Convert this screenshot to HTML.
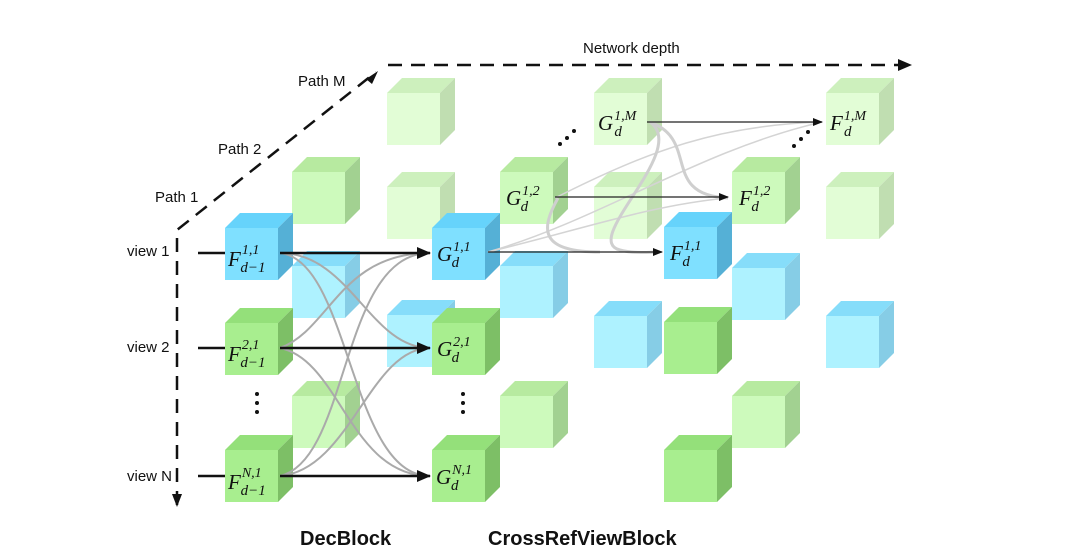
<!DOCTYPE html>
<html><head><meta charset="utf-8"><style>
body{margin:0;background:#fff}
svg{display:block}
.t{font-family:"Liberation Sans",sans-serif;font-size:15px;fill:#111}
.b{font-family:"Liberation Sans",sans-serif;font-size:20px;font-weight:bold;fill:#111}
.m{font-family:"Liberation Serif",serif;font-style:italic;fill:#111}
</style></head><body>
<svg width="1080" height="560" viewBox="0 0 1080 560" xmlns="http://www.w3.org/2000/svg">
<defs>
<g id="cb"><polygon points="0,0 15,-15 68,-15 53,0" fill="#66d3fb"/><polygon points="53,0 68,-15 68,37 53,52" fill="#55b0d6"/><rect width="53" height="52" fill="#7fe0ff"/></g>
<g id="clb"><polygon points="0,0 15,-15 68,-15 53,0" fill="#86ddfa"/><polygon points="53,0 68,-15 68,37 53,52" fill="#86cde6"/><rect width="53" height="52" fill="#aef2ff"/></g>
<g id="cg"><polygon points="0,0 15,-15 68,-15 53,0" fill="#94e07a"/><polygon points="53,0 68,-15 68,37 53,52" fill="#7dbf66"/><rect width="53" height="52" fill="#a8ee8f"/></g>
<g id="clg"><polygon points="0,0 15,-15 68,-15 53,0" fill="#b7eaa0"/><polygon points="53,0 68,-15 68,37 53,52" fill="#a2d191"/><rect width="53" height="52" fill="#cdfabc"/></g>
<g id="cvg"><polygon points="0,0 15,-15 68,-15 53,0" fill="#cdf0bd"/><polygon points="53,0 68,-15 68,37 53,52" fill="#c0deb1"/><rect width="53" height="52" fill="#e2fdd6"/></g>
<marker id="ah" markerWidth="10" markerHeight="8" refX="9" refY="4" orient="auto" markerUnits="userSpaceOnUse"><path d="M0,0 L10,4 L0,8 z" fill="#111"/></marker>
<marker id="ah2" markerWidth="14" markerHeight="12" refX="13" refY="6" orient="auto" markerUnits="userSpaceOnUse"><path d="M0,0 L14,6 L0,12 z" fill="#111"/></marker>
</defs>

<path d="M177,505 L177,230 L376,72" fill="none" stroke="#111" stroke-width="2.5" stroke-dasharray="14,9"/>
<path d="M366,79 L378,71 L372,84 z" fill="#111"/>
<path d="M172,494 L177,507 L182,494 z" fill="#111"/>
<path d="M388,65 L900,65" stroke="#111" stroke-width="2.5" stroke-dasharray="14,9"/>
<path d="M898,59 L912,65 L898,71 z" fill="#111"/>
<text class="t" x="583" y="53">Network depth</text>
<text class="t" x="298" y="86">Path M</text>
<text class="t" x="218" y="154">Path 2</text>
<text class="t" x="155" y="202">Path 1</text>
<text class="t" x="127" y="256">view 1</text>
<text class="t" x="127" y="352">view 2</text>
<text class="t" x="127" y="481">view N</text>
<text class="b" x="300" y="545">DecBlock</text>
<text class="b" x="488" y="545">CrossRefViewBlock</text>

<use href="#cvg" x="387" y="93"/>
<use href="#cvg" x="594" y="93"/>
<use href="#cvg" x="826" y="93"/>
<use href="#clg" x="292" y="172"/>
<use href="#cvg" x="387" y="187"/>
<use href="#clg" x="500" y="172"/>
<use href="#cvg" x="594" y="187"/>
<use href="#clg" x="732" y="172"/>
<use href="#cvg" x="826" y="187"/>
<use href="#clb" x="292" y="266"/>
<use href="#clb" x="500" y="266"/>
<use href="#clb" x="732" y="268"/>
<use href="#clb" x="387" y="315"/>
<use href="#clb" x="594" y="316"/>
<use href="#clb" x="826" y="316"/>
<use href="#cg" x="664" y="322"/>
<use href="#clg" x="292" y="396"/>
<use href="#clg" x="500" y="396"/>
<use href="#clg" x="732" y="396"/>
<use href="#cg" x="664" y="450"/>
<use href="#cb" x="225" y="228"/>
<use href="#cg" x="225" y="323"/>
<use href="#cg" x="225" y="450"/>
<use href="#cb" x="432" y="228"/>
<use href="#cg" x="432" y="323"/>
<use href="#cg" x="432" y="450"/>
<use href="#cb" x="664" y="227"/>

<g fill="none" stroke="#aaa" stroke-width="2">
<path d="M280,253 C350,253 370,348 430,348"/>
<path d="M280,253 C350,260 350,476 430,476"/>
<path d="M280,348 C330,330 340,253 430,253"/>
<path d="M280,348 C340,360 350,476 430,476"/>
<path d="M280,476 C350,460 340,253 430,253"/>
<path d="M280,476 C350,470 370,348 430,348"/>
</g>
<g fill="none" stroke="#d4d4d4" stroke-width="1.5">
<path d="M488,252 C600,220 700,150 822,122"/>
<path d="M488,252 C580,230 650,205 728,198"/>
<path d="M555,198 C650,150 720,125 822,122"/>
</g>
<g fill="none" stroke="#cfcfcf" stroke-width="3">
<path d="M650,122 C700,140 660,195 728,198"/>
<path d="M650,122 C690,150 580,240 620,250 C635,254 650,252 660,252"/>
<path d="M558,198 C540,230 540,252 600,252"/>
</g>

<g stroke="#111" stroke-width="2.5">
<line x1="198" y1="253" x2="225" y2="253"/>
<line x1="198" y1="348" x2="225" y2="348"/>
<line x1="198" y1="476" x2="225" y2="476"/>
<line x1="280" y1="253" x2="430" y2="253" marker-end="url(#ah2)"/>
<line x1="280" y1="348" x2="430" y2="348" marker-end="url(#ah2)"/>
<line x1="280" y1="476" x2="430" y2="476" marker-end="url(#ah2)"/>
</g>
<g stroke="#222" stroke-width="1.3">
<line x1="488" y1="252" x2="662" y2="252" marker-end="url(#ah)"/>
<line x1="555" y1="197" x2="728" y2="197" marker-end="url(#ah)"/>
<line x1="647" y1="122" x2="822" y2="122" marker-end="url(#ah)"/>
</g>

<g fill="#111">
<circle cx="257" cy="394" r="2"/><circle cx="257" cy="403" r="2"/><circle cx="257" cy="412" r="2"/>
<circle cx="463" cy="394" r="2"/><circle cx="463" cy="403" r="2"/><circle cx="463" cy="412" r="2"/>
<circle cx="560" cy="144" r="2"/><circle cx="567" cy="138" r="2"/><circle cx="574" cy="131" r="2"/>
<circle cx="794" cy="146" r="2"/><circle cx="801" cy="139" r="2"/><circle cx="808" cy="132" r="2"/>
</g>

<g class="m">
<text x="228" y="266" font-size="21">F<tspan font-size="14" dx="1" dy="-12">1,1</tspan><tspan font-size="15" dx="-19" dy="18">d−1</tspan></text>
<text x="228" y="361" font-size="21">F<tspan font-size="14" dx="1" dy="-12">2,1</tspan><tspan font-size="15" dx="-19" dy="18">d−1</tspan></text>
<text x="228" y="489" font-size="21">F<tspan font-size="14" dx="1" dy="-12">N,1</tspan><tspan font-size="15" dx="-21" dy="18">d−1</tspan></text>
<text x="437" y="261" font-size="21">G<tspan font-size="14" dx="1" dy="-10">1,1</tspan><tspan font-size="15" dx="-19" dy="16">d</tspan></text>
<text x="437" y="356" font-size="21">G<tspan font-size="14" dx="1" dy="-10">2,1</tspan><tspan font-size="15" dx="-19" dy="16">d</tspan></text>
<text x="436" y="484" font-size="21">G<tspan font-size="14" dx="1" dy="-10">N,1</tspan><tspan font-size="15" dx="-21" dy="16">d</tspan></text>
<text x="506" y="205" font-size="21">G<tspan font-size="14" dx="1" dy="-10">1,2</tspan><tspan font-size="15" dx="-19" dy="16">d</tspan></text>
<text x="598" y="130" font-size="21">G<tspan font-size="14" dx="1" dy="-10">1,M</tspan><tspan font-size="15" dx="-22" dy="16">d</tspan></text>
<text x="670" y="260" font-size="21">F<tspan font-size="14" dx="1" dy="-10">1,1</tspan><tspan font-size="15" dx="-19" dy="16">d</tspan></text>
<text x="739" y="205" font-size="21">F<tspan font-size="14" dx="1" dy="-10">1,2</tspan><tspan font-size="15" dx="-19" dy="16">d</tspan></text>
<text x="830" y="130" font-size="21">F<tspan font-size="14" dx="1" dy="-10">1,M</tspan><tspan font-size="15" dx="-22" dy="16">d</tspan></text>
</g>
</svg>
</body></html>
